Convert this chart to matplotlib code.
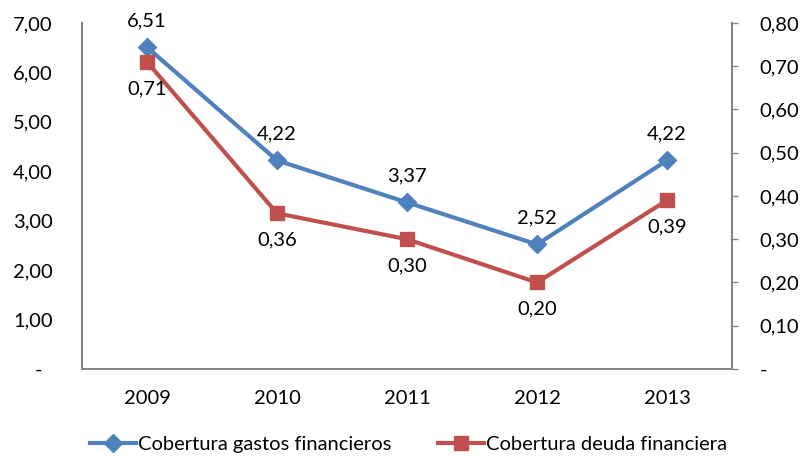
import matplotlib
matplotlib.use("Agg")
import matplotlib.pyplot as plt
from matplotlib.ticker import FuncFormatter, MultipleLocator

plt.rcParams["font.family"] = ["Lato", "DejaVu Sans"]

years = ["2009", "2010", "2011", "2012", "2013"]
gastos = [6.51, 4.22, 3.37, 2.52, 4.22]
deuda = [0.71, 0.36, 0.30, 0.20, 0.39]

blue = "#4F81BD"
red = "#C0504D"
gray = "#868686"
fs = 14.5


def coma(v, pos=None):
    if abs(v) < 1e-9:
        return "-"
    return f"{v:.2f}".replace(".", ",")


fig = plt.figure(figsize=(8, 4.57), dpi=100)
ax = fig.add_axes([0.1025, 0.1926, 0.8125, 0.7571])
ax2 = ax.twinx()

x = list(range(len(years)))
l1, = ax.plot(x, gastos, color=blue, lw=3, marker="D", ms=9,
              label="Cobertura gastos financieros")
l2, = ax2.plot(x, deuda, color=red, lw=3, marker="s", ms=10,
               label="Cobertura deuda financiera")

for xi, v in zip(x, gastos):
    ax.annotate(coma(v), (xi, v), xytext=(0, 13), textcoords="offset points",
                ha="center", va="bottom", fontsize=fs)
for xi, v in zip(x, deuda):
    ax2.annotate(coma(v), (xi, v), xytext=(0, -13), textcoords="offset points",
                 ha="center", va="top", fontsize=fs)

ax.set_xlim(-0.5, 4.5)
ax.set_ylim(0, 7)
ax2.set_ylim(0, 0.8)
ax.yaxis.set_major_locator(MultipleLocator(1))
ax2.yaxis.set_major_locator(MultipleLocator(0.1))
# "-" for zero, padded like the spreadsheet format
ax.yaxis.set_major_formatter(FuncFormatter(lambda v, p: "-  " if abs(v) < 1e-9 else coma(v)))
ax2.yaxis.set_major_formatter(FuncFormatter(coma))
ax.set_xticks(x)
ax.set_xticklabels(years)

for a in (ax, ax2):
    for s in a.spines.values():
        s.set_visible(False)
    a.tick_params(labelsize=fs, colors="black")
for a, side in ((ax, "left"), (ax, "bottom"), (ax2, "right")):
    a.spines[side].set_visible(True)
    a.spines[side].set_color(gray)
    a.spines[side].set_linewidth(1.5)

ax.tick_params(axis="y", length=0, pad=21)
ax.tick_params(axis="x", length=0, pad=15)
ax2.tick_params(axis="y", length=4, width=1, color=gray, direction="out", pad=16)

fig.legend([l1, l2], [l1.get_label(), l2.get_label()], loc="center",
           bbox_to_anchor=(0.511, 0.028), ncol=2, frameon=False, fontsize=fs,
           handlelength=2.3, handletextpad=0.1, columnspacing=2.3)

fig.savefig("out.png", dpi=100)
